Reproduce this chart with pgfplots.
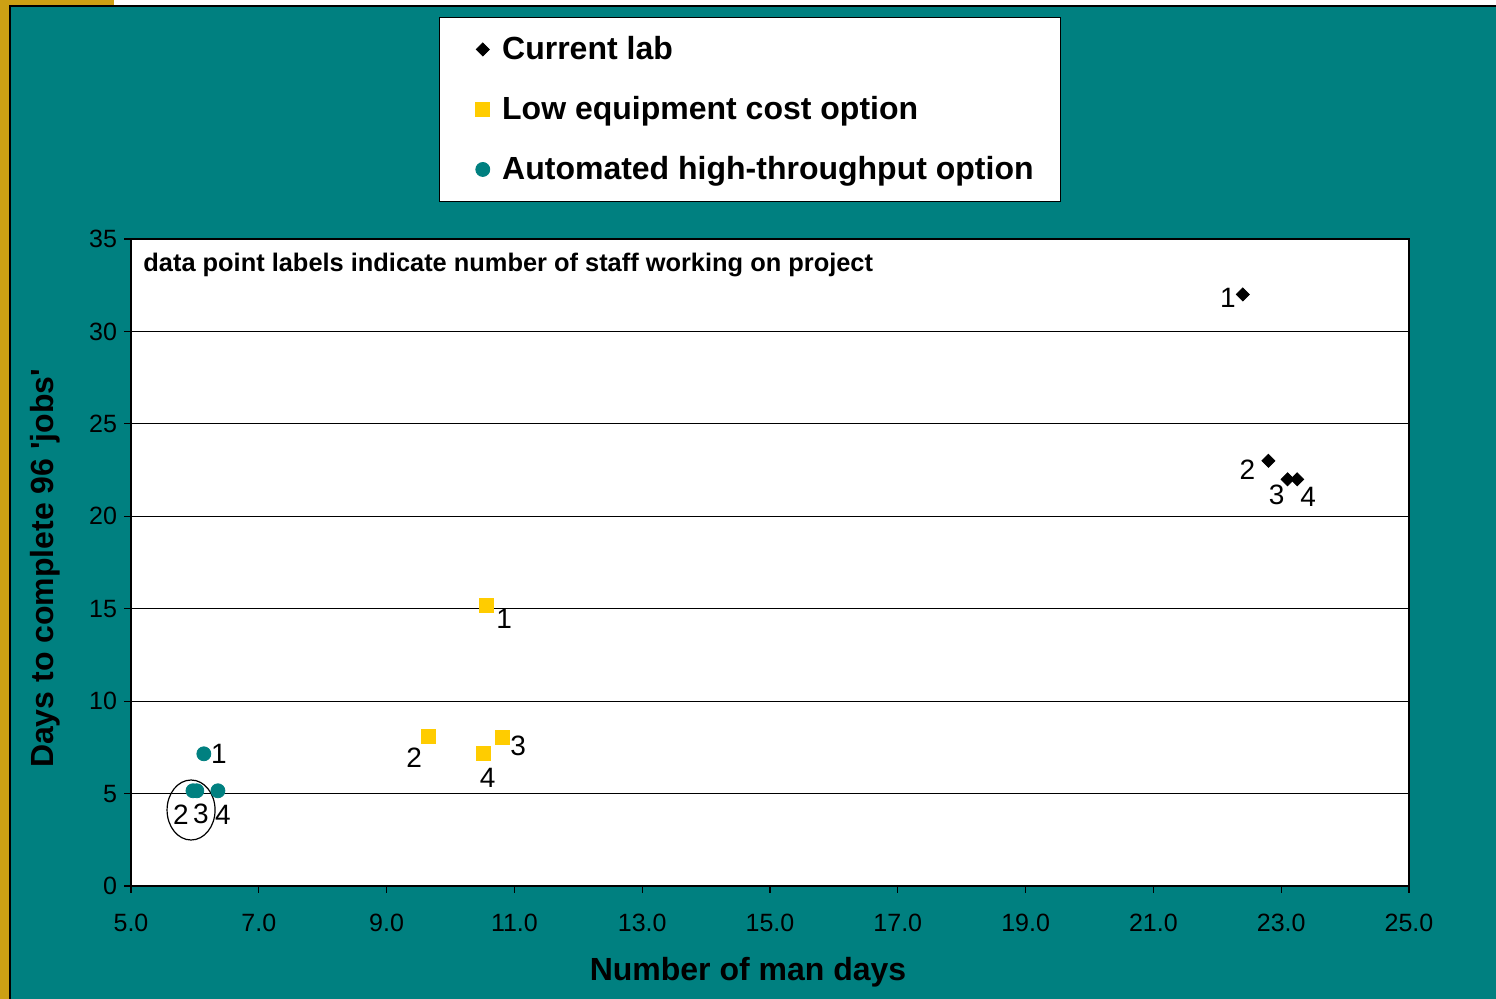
\documentclass[border=0pt]{standalone}
\usepackage{pgfplots}
\pgfplotsset{compat=1.18}
\usepackage{fontspec}
\setmainfont{Liberation Sans}
\definecolor{bgteal}{RGB}{0,128,128}
\definecolor{myyellow}{RGB}{255,204,0}
\definecolor{gold}{RGB}{204,160,20}
\begin{document}
\begin{tikzpicture}
\path[use as bounding box] (0,0) rectangle (748pt,499.5pt);
\fill[gold] (0,0) rectangle (5pt,499.5pt);
\fill[gold] (0,496.5pt) rectangle (57pt,499.5pt);
\fill[bgteal] (5pt,0) rectangle (748pt,496.5pt);
\draw[black, line width=0.8pt] (5pt,0) -- (5pt,496.5pt) -- (748pt,496.5pt);
\begin{axis}[
  at={(65.5pt,56.5pt)}, anchor=south west,
  scale only axis, width=639pt, height=323.5pt,
  xmin=5, xmax=25, ymin=0, ymax=35,
  xtick={5,7,...,25}, ytick={0,5,...,35},
  /pgf/number format/assume math mode=true,
  xticklabel={\pgfmathprintnumber[fixed,fixed zerofill,precision=1]{\tick}},
  yticklabel={\pgfmathprintnumber[fixed,precision=0]{\tick}},
  tick label style={font=\fontsize{12.5}{15}\selectfont},
  xticklabel style={yshift=-7pt},
  tick align=outside, tick pos=left, major tick length=3.5pt,
  tick style={black, line width=0.6pt},
  axis background/.style={fill=white},
  axis line style={black, line width=0.6pt},
  ymajorgrids, major grid style={black, line width=0.6pt},
  xlabel={Number of man days},
  ylabel={Days to complete 96 \textquotesingle jobs\textquotesingle},
  label style={font=\bfseries\fontsize{16}{19}\selectfont},
  xlabel style={at={(axis description cs:0.4828,-0.133)}, anchor=center},
  ylabel style={at={(axis description cs:-0.0673,0.491)}, anchor=center, rotate=0},
  legend cell align=left,
  legend image code/.code={\path (0pt,0pt) (17.5pt,0pt);\draw[mark repeat=2,mark phase=2,#1] plot coordinates {(0pt,0pt) (10pt,0pt) (17.5pt,0pt)};},
  legend style={at={(0.241,1.343)}, anchor=north west, draw=black, fill=white,
    font=\bfseries\fontsize{16}{19}\selectfont, inner xsep=11.5pt, inner ysep=7.5pt,
    row sep=13pt, nodes={text height=11.5pt, text depth=1.5pt}},
  nodes near coords,
  point meta=explicit symbolic,
  visualization depends on={\thisrow{dx}\as\dx},
  visualization depends on={\thisrow{dy}\as\dy},
  nodes near coords style={anchor=center, xshift=\dx pt, yshift=\dy pt, font=\fontsize{14}{16}\selectfont, text=black},
  clip=false,
]
\addplot[only marks, mark=square*, mark size=2.3pt, mark options={rotate=45}, color=black] table[meta=lab] {
x y lab dx dy
22.4 32.0 1 -7.5 -1.5
22.8 23.0 2 -10.5 -4.5
23.1 22.0 3 -5.5 -8
23.25 22.0 4 5.5 -9
};
\addlegendentry{Current lab}
\addplot[only marks, mark=square*, mark size=3.5pt, color=myyellow] table[meta=lab] {
x y lab dx dy
10.56 15.2 1 9 -7
9.65 8.1 2 -7 -10.5
10.81 8.05 3 8 -4.5
10.52 7.15 4 2 -12
};
\addlegendentry{Low equipment cost option}
\addplot[only marks, mark=*, mark size=3.5pt, color=bgteal] table[meta=lab] {
x y lab dx dy
6.14 7.15 1 7.5 0
5.97 5.15 2 -6 -12
6.03 5.15 3 2 -11.5
6.36 5.15 4 2.5 -12
};
\addlegendentry{Automated high-throughput option}
\draw[black, line width=0.6pt] (axis cs:5.94,4.11) ellipse [x radius=12pt, y radius=15pt];
\node[anchor=base west, font=\bfseries\fontsize{12.7}{15}\selectfont, inner sep=0pt] at (rel axis cs:0.0094,0.9505) {data point labels indicate number of staff working on project};
\end{axis}
\end{tikzpicture}
\end{document}
